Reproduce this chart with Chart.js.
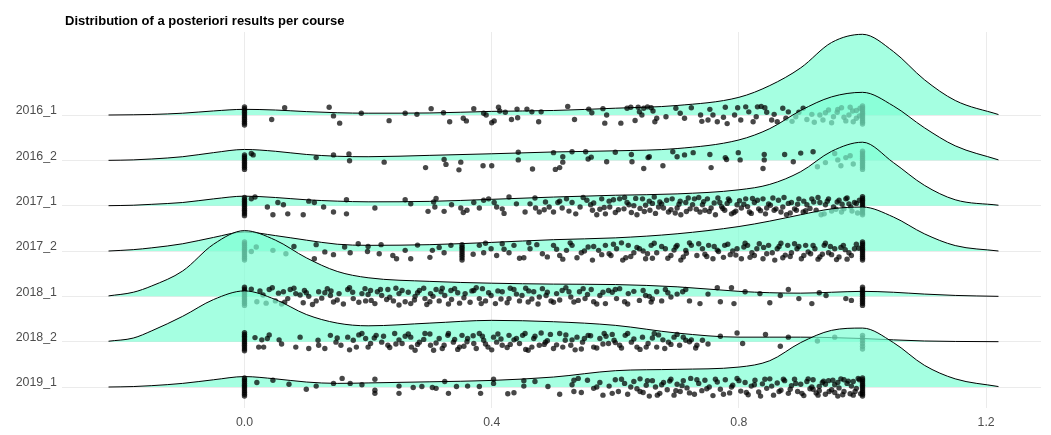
<!DOCTYPE html>
<html>
<head>
<meta charset="utf-8">
<script src="https://cdn.jsdelivr.net/npm/chart.js@4"></script>
<style>
  body { margin: 0; background: #fff; }
  #wrap { width: 1051px; height: 435px; }
</style>
</head>
<body>
<div id="wrap"><canvas id="chart" width="1051" height="435"></canvas></div>
<script>
var titleText = 'Distribution of a posteriori results per course';
var courses = ['2016_1', '2016_2', '2017_1', '2017_2', '2018_1', '2018_2', '2019_1'];
var xTicks = [0, 0.4, 0.8, 1.2];

// density curves, in row heights, sampled at densX
var densX = [-0.22, -0.18, -0.15, -0.1, -0.05, 0, 0.05, 0.1, 0.15, 0.2, 0.3, 0.4, 0.5, 0.6, 0.7, 0.8, 0.85, 0.9, 0.95, 1.0, 1.05, 1.1, 1.15, 1.22];
var dens2016_1 = [0, 0.005, 0.012, 0.04, 0.09, 0.125, 0.11, 0.075, 0.05, 0.04, 0.045, 0.08, 0.1, 0.15, 0.21, 0.39, 0.65, 1.04, 1.6, 1.78, 1.4, 0.78, 0.32, 0.01];
var dens2016_2 = [0, 0.01, 0.03, 0.08, 0.17, 0.24, 0.2, 0.13, 0.09, 0.08, 0.11, 0.145, 0.185, 0.21, 0.26, 0.45, 0.7, 1.1, 1.4, 1.5, 1.2, 0.72, 0.32, 0.01];
var dens2017_1 = [0, 0.01, 0.03, 0.07, 0.15, 0.21, 0.18, 0.13, 0.1, 0.085, 0.095, 0.14, 0.19, 0.23, 0.26, 0.35, 0.47, 0.75, 1.2, 1.4, 0.95, 0.45, 0.13, 0.01];
var dens2017_2 = [0, 0.03, 0.07, 0.16, 0.3, 0.42, 0.34, 0.24, 0.15, 0.125, 0.14, 0.19, 0.25, 0.29, 0.38, 0.54, 0.66, 0.8, 0.93, 0.97, 0.75, 0.38, 0.12, 0];
var dens2018_1 = [0.01, 0.09, 0.23, 0.56, 1.15, 1.45, 1.24, 0.85, 0.55, 0.41, 0.33, 0.29, 0.27, 0.26, 0.21, 0.11, 0.08, 0.07, 0.09, 0.11, 0.09, 0.05, 0.02, 0];
var dens2018_2 = [0.01, 0.08, 0.24, 0.56, 0.93, 1.12, 0.93, 0.6, 0.41, 0.35, 0.41, 0.47, 0.44, 0.36, 0.19, 0.1, 0.1, 0.1, 0.09, 0.07, 0.04, 0.015, 0.005, 0];
var dens2019_1 = [0, 0.01, 0.03, 0.08, 0.16, 0.23, 0.18, 0.11, 0.08, 0.09, 0.115, 0.145, 0.22, 0.36, 0.39, 0.44, 0.58, 0.98, 1.25, 1.3, 0.98, 0.48, 0.18, 0.01];

// results per student: [value, vertical jitter in row heights]
var pts2016_1 = [
  [0,-0.22],[0,-0.18],[0,-0.14],[0,-0.1],[0,-0.06],[0,-0.02],[0,0.02],[0,0.06],[0,0.1],[0,0.14],[0,0.18],
  [0.065,0.16],[0.044,-0.1],[0.137,0.17],[0.144,-0.02],[0.154,-0.18],[0.189,0.04],[0.234,-0.125],[0.26,0.04],[0.279,0.015],
  [0.302,0.14],[0.322,0.05],[0.332,-0.15],[0.354,-0.07],[0.359,-0.13],[0.371,0.14],[0.387,0.04],[0.391,0.0],[0.4,-0.17],
  [0.404,-0.13],[0.411,0.17],[0.413,0.09],[0.422,0.06],[0.432,-0.1],[0.441,0.13],[0.442,-0.06],[0.457,0.13],[0.465,0.07],
  [0.476,-0.15],[0.48,0.07],[0.523,0.19],[0.534,-0.1],[0.557,0.13],[0.562,0.05],[0.58,0.14],[0.583,-0.18],[0.586,0.0],
  [0.609,-0.18],[0.619,0.15],[0.625,0.17],[0.632,-0.12],[0.637,0.17],[0.639,0.07],[0.643,0.0],[0.646,0.15],[0.652,0.18],
  [0.658,0.16],[0.661,0.09],[0.664,-0.15],[0.667,-0.07],[0.682,-0.04],[0.698,0.15],[0.705,0.04],[0.712,-0.07],[0.723,0.16],
  [0.738,0.0],[0.74,-0.14],[0.75,-0.11],[0.753,0.125],[0.758,0.0],[0.765,-0.15],[0.775,-0.05],[0.778,0.17],[0.781,-0.19],
  [0.793,0.0],[0.798,0.16],[0.803,-0.11],[0.811,0.18],[0.816,0.07],[0.823,-0.15],[0.828,-0.04],[0.83,0.18],[0.836,0.19],
  [0.842,0.16],[0.845,0.06],[0.853,-0.11],[0.857,0.015],[0.862,-0.15],[0.871,0.15],[0.876,-0.07],[0.88,0.07],[0.886,-0.14],
  [0.892,-0.04],[0.897,0.06],[0.904,0.15],[0.91,-0.1],[0.918,0.015],[0.922,-0.16],[0.931,0.0],[0.936,-0.11],[0.945,0.11],
  [0.953,-0.04],[0.959,0.06],[0.966,0.16],[0.973,-0.13],[0.978,0.0],[0.984,0.09],[0.99,-0.07],[0.996,0.15],
  [0.94,0.05],[0.95,-0.17],[0.96,0.12],[0.97,-0.05],[0.98,0.17],[0.985,-0.15],[0.99,0.1],[0.995,-0.02],
  [1,-0.2],[1,-0.16],[1,-0.12],[1,-0.08],[1,-0.04],[1,0],[1,0.04],[1,0.08],[1,0.12],[1,0.16],[1,0.2]
];
var pts2016_2 = [
  [0,-0.2],[0,-0.16],[0,-0.12],[0,-0.08],[0,-0.04],[0,0],[0,0.04],[0,0.08],[0,0.12],
  [0.011,0.15],[0.014,0.12],[0.116,0.06],[0.144,0.12],[0.169,0.14],[0.17,-0.01],[0.226,-0.04],[0.293,-0.16],[0.323,0.02],
  [0.326,-0.09],[0.347,-0.21],[0.35,-0.04],[0.386,-0.12],[0.4,-0.12],[0.443,0.18],[0.443,0.01],[0.466,-0.19],[0.5,0.17],
  [0.503,-0.2],[0.51,-0.16],[0.515,0.08],[0.515,-0.04],[0.53,0.19],[0.552,0.19],[0.556,0.03],[0.561,0.07],[0.586,-0.03],
  [0.6,0.18],[0.626,0.13],[0.627,-0.03],[0.646,-0.18],[0.653,0.06],[0.655,0.08],[0.677,-0.12],[0.693,0.19],[0.7,0.08],
  [0.712,0.12],[0.726,0.17],[0.753,0.13],[0.755,-0.16],[0.778,0.06],[0.78,0.02],[0.799,0.17],[0.802,0.01],[0.841,0.13],
  [0.841,0.01],[0.839,-0.18],[0.874,0.13],[0.888,-0.03],[0.9,0.16],[0.92,0.19],[0.927,-0.14],[0.955,0.15],[0.96,0.01],
  [0.973,0.06],[0.94,-0.05],[0.965,-0.12],[0.98,0.1],[0.985,-0.08],
  [1,-0.2],[1,-0.16],[1,-0.12],[1,-0.08],[1,-0.04],[1,0],[1,0.04],[1,0.08],[1,0.12],[1,0.16],[1,0.2]
];
var pts2017_1 = [
  [0,-0.22],[0,-0.18],[0,-0.14],[0,-0.1],[0,-0.06],[0,-0.02],[0,0.02],[0,0.06],[0,0.1],[0,0.14],[0,0.18],
  [0.011,0.15],[0.017,0.19],[0.037,-0.03],[0.046,-0.2],[0.054,0.07],[0.063,0.02],[0.07,-0.18],[0.095,-0.2],[0.104,0.1],
  [0.113,0.07],[0.128,-0.03],[0.144,-0.14],[0.165,0.13],[0.165,-0.18],[0.211,-0.05],[0.26,0.13],[0.269,0.04],[0.297,-0.125],
  [0.306,0.08],[0.308,-0.03],[0.323,-0.125],[0.35,-0.05],[0.354,-0.15],[0.371,0.07],[0.38,-0.05],[0.387,0.12],[0.404,0.07],
  [0.408,-0.03],[0.417,-0.07],[0.428,0.19],[0.454,-0.14],[0.462,0.04],[0.471,-0.05],[0.477,-0.14],[0.487,0.08],[0.493,-0.03],
  [0.5,-0.14],[0.507,0.07],[0.514,-0.05],[0.521,0.15],[0.53,0.07],[0.536,-0.18],[0.543,-0.03],[0.554,0.12],[0.563,-0.1],
  [0.57,-0.2],[0.578,0.15],[0.584,-0.18],[0.591,-0.03],[0.607,0.15],[0.614,-0.07],[0.619,0.07],[0.626,-0.15],[0.635,-0.2],
  [0.644,0.15],[0.649,0.01],[0.656,-0.1],[0.663,0.19],[0.672,0.08],[0.678,-0.05],[0.686,-0.14],[0.692,0.15],[0.7,-0.05],
  [0.706,-0.2],[0.714,0.07],[0.721,-0.07],[0.728,0.15],[0.737,-0.14],[0.741,0.02],[0.749,0.15],[0.755,-0.05],[0.762,-0.2],
  [0.769,0.07],[0.777,-0.1],[0.783,0.15],[0.788,-0.18],[0.797,0.02],[0.804,-0.05],[0.811,0.15],[0.817,-0.14],[0.825,0.07],
  [0.832,-0.07],[0.839,0.15],[0.843,-0.18],[0.851,0.01],[0.857,-0.1],[0.864,0.12],[0.871,-0.03],[0.877,-0.2],[0.885,0.07],
  [0.89,-0.07],[0.897,0.15],[0.904,-0.14],[0.91,0.02],[0.918,0.15],[0.925,-0.1],[0.931,0.07],[0.938,-0.18],[0.945,0.15],
  [0.953,-0.03],[0.959,0.08],[0.966,-0.14],[0.973,0.15],[0.981,-0.03],[0.987,0.07],
  [0.56,0.02],[0.575,-0.08],[0.59,0.1],[0.6,-0.15],[0.615,0.18],[0.63,0.0],[0.64,-0.06],[0.655,0.1],[0.665,-0.17],
  [0.675,0.04],[0.69,-0.09],[0.705,0.1],[0.715,-0.13],[0.725,0.02],[0.735,0.18],[0.745,-0.1],[0.76,0.06],[0.772,-0.02],
  [0.785,0.11],[0.795,-0.12],[0.808,0.03],[0.82,-0.17],[0.83,0.12],[0.845,-0.05],[0.855,0.17],[0.868,-0.14],[0.88,0.05],
  [0.893,-0.1],[0.905,0.1],[0.915,-0.06],[0.928,0.18],[0.94,0.02],[0.95,-0.12],[0.962,0.12],[0.97,-0.07],[0.978,0.04],
  [0.992,-0.16],[0.995,0.12],
  [0.31,0.16],[0.335,0.02],[0.36,-0.1],[0.395,0.15],[0.42,-0.17],[0.44,0.04],[0.47,0.17],[0.485,-0.09],[0.51,0.1],
  [0.525,-0.12],[0.548,0.18],[0.565,0.06],[0.582,-0.04],[0.597,0.13],[0.605,-0.09],[0.622,0.02],[0.633,0.16],[0.647,-0.13],
  [0.66,0.05],[0.67,-0.03],[0.683,0.12],[0.697,-0.16],[0.703,0.03],[0.718,0.17],[0.731,-0.08],[0.743,0.09],[0.752,-0.13],
  [0.766,0.17],[0.774,-0.06],[0.781,0.05],[0.792,-0.15],[0.801,0.11],[0.814,-0.02],[0.822,0.16],[0.835,-0.11],[0.848,0.04],
  [0.86,-0.07],[0.873,0.18],[0.883,-0.16],[0.895,0.03],[0.908,-0.11],[0.921,0.08],[0.933,-0.2],[0.943,0.1],[0.957,-0.08],
  [0.967,0.03],[0.975,0.17],[0.983,-0.12],[0.99,0.05],
  [1,-0.2],[1,-0.16],[1,-0.12],[1,-0.08],[1,-0.04],[1,0],[1,0.04],[1,0.08],[1,0.12],[1,0.16],[1,0.2]
];
var pts2017_2 = [
  [0,-0.2],[0,-0.16],[0,-0.12],[0,-0.08],[0,-0.04],[0,0],[0,0.04],[0,0.08],[0,0.12],[0,0.16],[0,0.2],
  [0.011,-0.01],[0.019,0.09],[0.046,0.015],[0.067,-0.06],[0.113,-0.17],[0.116,0.14],[0.144,-0.08],[0.162,0.09],[0.171,-0.04],
  [0.184,0.16],[0.199,-0.01],[0.221,0.14],[0.218,-0.06],[0.246,-0.17],[0.26,0.015],[0.269,-0.17],[0.304,0.015],[0.323,-0.04],
  [0.334,0.125],[0.352,0.14],[0.352,0.09],[0.352,0.05],[0.352,0.0],[0.352,-0.05],[0.352,-0.1],[0.352,-0.15],[0.352,-0.2],
  [0.38,0.125],[0.387,-0.04],[0.399,0.05],[0.408,-0.1],[0.417,0.16],[0.428,-0.04],[0.436,0.125],[0.452,-0.15],[0.462,0.05],
  [0.473,0.14],[0.482,-0.06],[0.5,0.125],[0.51,-0.1],[0.521,0.015],[0.53,0.125],[0.538,-0.15],[0.545,-0.04],[0.556,0.09],
  [0.563,-0.2],[0.573,0.015],[0.584,0.125],[0.593,-0.1],[0.602,0.05],[0.612,-0.2],[0.621,0.125],[0.63,-0.04],[0.639,0.05],
  [0.649,-0.17],[0.658,0.125],[0.667,-0.04],[0.681,0.05],[0.69,-0.1],[0.7,0.125],[0.706,-0.2],[0.714,0.015],[0.723,0.125],
  [0.732,-0.1],[0.741,0.05],[0.751,0.125],[0.758,-0.17],[0.767,-0.01],[0.777,0.125],[0.786,-0.08],[0.797,0.05],[0.804,-0.17],
  [0.814,0.125],[0.821,-0.04],[0.829,0.05],[0.839,-0.17],[0.848,0.125],[0.854,-0.04],[0.862,0.05],[0.871,-0.15],[0.879,0.125],
  [0.885,-0.04],[0.894,0.05],[0.901,-0.17],[0.908,0.125],[0.916,-0.06],[0.923,0.05],[0.931,-0.13],[0.938,0.125],[0.945,-0.04],
  [0.955,0.05],[0.962,-0.13],[0.969,0.125],[0.978,-0.04],[0.987,0.05],
  [0.565,0.1],[0.59,-0.06],[0.61,0.18],[0.625,-0.12],[0.645,0.0],[0.66,-0.16],[0.675,0.1],[0.695,0.02],[0.71,-0.13],
  [0.72,0.18],[0.745,-0.07],[0.76,0.1],[0.775,-0.14],[0.79,0.0],[0.81,0.17],[0.825,-0.1],[0.84,0.08],[0.858,-0.2],
  [0.868,0.17],[0.883,-0.12],[0.897,0.1],[0.912,-0.02],[0.928,-0.18],[0.94,0.17],[0.95,-0.08],[0.965,0.08],[0.975,-0.18],
  [0.99,0.15],
  [0.08,0.1],[0.13,-0.02],[0.2,0.1],[0.24,-0.1],[0.28,0.13],[0.3,-0.14],[0.315,0.08],[0.37,-0.07],[0.39,0.17],
  [0.42,0.04],[0.445,-0.16],[0.46,0.18],[0.49,-0.13],[0.505,0.04],[0.515,-0.18],[0.527,0.18],[0.55,0.0],[0.578,-0.08],
  [0.597,0.15],[0.617,-0.15],[0.635,0.08],[0.652,-0.06],[0.663,0.17],[0.685,-0.16],[0.698,0.09],[0.715,-0.05],[0.735,0.16],
  [0.748,-0.12],[0.765,0.02],[0.782,0.15],[0.795,-0.09],[0.808,0.09],[0.818,-0.14],[0.833,0.16],[0.845,-0.06],[0.865,0.1],
  [0.875,-0.09],[0.89,0.16],[0.905,-0.1],[0.92,0.12],[0.935,-0.07],[0.948,0.1],[0.958,-0.19],[0.972,0.03],[0.982,-0.1],
  [0.994,0.06],
  [1,-0.2],[1,-0.16],[1,-0.12],[1,-0.08],[1,-0.04],[1,0],[1,0.04],[1,0.08],[1,0.12],[1,0.16],[1,0.2]
];
var pts2018_1 = [
  [0,-0.2],[0,-0.16],[0,-0.12],[0,-0.08],[0,-0.04],[0,0],[0,0.04],[0,0.08],[0,0.12],[0,0.16],[0,0.2],
  [0.011,0.16],[0.025,0.12],[0.04,0.15],[0.02,-0.12],[0.035,-0.15],[0.05,-0.1],[0.06,-0.17],
  [0.063,0.1],[0.074,0.15],[0.083,0.06],[0.097,0.13],[0.104,0],[0.116,-0.1],[0.12,0.1],[0.134,0.17],[0.139,0.02],
  [0.144,-0.125],[0.153,0.06],[0.167,0.15],[0.176,-0.05],[0.19,0.06],[0.196,-0.1],[0.204,0.13],[0.211,-0.16],[0.222,0.02],
  [0.232,0.15],[0.241,-0.1],[0.25,0.06],[0.255,0.13],[0.269,-0.16],[0.276,0],[0.283,0.13],[0.292,-0.05],[0.301,0.06],
  [0.31,0.15],[0.315,-0.1],[0.324,0.02],[0.334,0.13],[0.348,-0.15],[0.357,0.06],[0.371,0.13],[0.38,-0.05],[0.385,0.17],
  [0.399,0.02],[0.406,-0.16],[0.417,0.1],[0.428,-0.05],[0.436,0.15],[0.449,0.02],[0.459,-0.125],[0.468,0.1],[0.477,-0.015],
  [0.482,0.17],[0.496,-0.1],[0.505,0.06],[0.514,0.13],[0.528,-0.015],[0.533,-0.125],[0.542,0.1],[0.551,-0.05],[0.561,0.15],
  [0.575,0.02],[0.584,-0.16],[0.589,0.13],[0.602,-0.05],[0.607,0.17],[0.621,0.06],[0.639,-0.09],[0.649,0.02],[0.658,-0.125],
  [0.667,0.1],[0.681,0.15],[0.69,-0.015],[0.709,0.1],[0.714,0.15],[0.737,-0.16],[0.765,0.19],[0.788,0.19],[0.792,-0.16],
  [0.834,0.06],[0.867,0.02],[0.897,-0.05],[0.918,-0.16],[0.941,0.02],[0.973,-0.05],[0.982,-0.09],
  [0.07,-0.05],[0.09,0.03],[0.11,-0.18],[0.13,0.08],[0.15,-0.08],[0.17,0.19],[0.185,-0.13],[0.2,0.04],[0.215,0.1],
  [0.23,-0.07],[0.245,0.18],[0.26,-0.12],[0.28,0.08],[0.295,-0.18],[0.305,0.0],[0.32,0.18],[0.335,-0.07],[0.345,0.08],
  [0.365,-0.13],[0.375,0.19],[0.39,-0.1],[0.41,0.12],[0.425,-0.14],[0.44,0.05],[0.455,0.18],[0.465,-0.06],[0.49,0.09],
  [0.5,-0.13],[0.52,0.19],[0.54,-0.09],[0.555,0.04],[0.57,-0.17],[0.595,0.09],[0.615,-0.12],[0.63,0.11],[0.655,0.0],
  [0.675,-0.1],[0.7,0.05],
  [0.03,0.03],[0.045,0.19],[0.055,0.07],[0.065,-0.13],[0.08,0.18],[0.095,-0.14],[0.1,0.08],[0.125,-0.04],[0.14,0.12],
  [0.16,-0.17],[0.175,0.09],[0.195,0.17],[0.205,-0.09],[0.22,0.15],[0.235,-0.02],[0.25,-0.19],[0.265,0.09],[0.275,-0.08],
  [0.29,0.18],[0.3,-0.12],[0.318,0.1],[0.33,-0.17],[0.34,0.17],[0.355,-0.03],[0.368,0.12],[0.383,-0.16],[0.395,0.08],
  [0.415,-0.06],[0.43,0.18],[0.445,-0.1],[0.46,0.12],[0.475,-0.17],[0.488,0.02],[0.51,-0.08],[0.525,0.1],[0.548,0.17],
  [0.565,-0.12],[0.58,0.09],[0.6,0.15],[0.62,-0.17],[0.645,0.13],[0.66,-0.06],[0.685,0.08],[0.72,-0.1],[0.75,0.05],
  [0.77,-0.12],[0.81,0.1],[0.85,-0.14],[0.88,0.15],[0.93,0.08],
  [1,-0.2],[1,-0.16],[1,-0.12],[1,-0.08],[1,-0.04],[1,0],[1,0.04],[1,0.08],[1,0.12],[1,0.16],[1,0.2]
];
var pts2018_2 = [
  [0,-0.2],[0,-0.16],[0,-0.12],[0,-0.08],[0,-0.04],[0,0],[0,0.04],[0,0.08],[0,0.12],[0,0.16],[0,0.2],
  [0.017,0.09],[0.028,0.04],[0.037,0.07],[0.023,-0.12],[0.031,-0.12],[0.056,0.04],[0.083,-0.12],[0.104,-0.15],[0.119,0.03],
  [0.12,-0.08],[0.139,0.14],[0.148,-0.01],[0.156,-0.08],[0.167,0.1],[0.176,0.03],[0.181,-0.12],[0.19,0.18],[0.196,0.07],
  [0.204,-0.04],[0.213,0.14],[0.222,-0.01],[0.232,-0.08],[0.243,0.18],[0.25,0.04],[0.255,-0.04],[0.269,0.1],[0.276,-0.19],
  [0.283,-0.01],[0.292,0.18],[0.301,-0.08],[0.306,-0.19],[0.315,0.07],[0.323,-0.08],[0.329,0.14],[0.338,-0.01],[0.348,-0.12],
  [0.352,0.14],[0.361,0.07],[0.371,-0.04],[0.38,0.18],[0.387,0.03],[0.394,-0.12],[0.403,0.1],[0.408,-0.01],[0.417,-0.08],
  [0.428,0.14],[0.436,0.04],[0.445,-0.04],[0.454,0.18],[0.459,-0.19],[0.468,0.07],[0.477,-0.08],[0.487,-0.01],[0.5,-0.15],
  [0.51,0.18],[0.519,0.03],[0.528,-0.08],[0.538,0.1],[0.547,-0.01],[0.556,0.14],[0.565,-0.12],[0.575,0.07],[0.582,0.18],
  [0.589,-0.04],[0.598,0.03],[0.607,-0.08],[0.616,0.14],[0.626,-0.01],[0.635,-0.12],[0.644,0.1],[0.653,-0.04],[0.663,0.18],
  [0.667,-0.12],[0.677,0.04],[0.686,-0.01],[0.695,0.1],[0.704,-0.08],[0.714,0.03],[0.723,0.04],[0.732,-0.08],[0.741,0.03],
  [0.797,0.19],[0.806,-0.04],[0.843,0.16],[0.867,-0.1],[0.88,0.1],[0.927,0.015],[0.955,0.1],
  [0.21,0.08],[0.235,-0.13],[0.26,0.12],[0.28,-0.06],[0.3,0.17],[0.32,-0.15],[0.34,0.05],[0.355,-0.1],[0.37,0.13],
  [0.39,-0.05],[0.41,0.17],[0.425,-0.13],[0.44,0.07],[0.455,-0.17],[0.47,0.12],[0.485,-0.06],[0.495,0.16],[0.515,-0.12],
  [0.53,0.04],[0.545,-0.16],[0.56,0.13],[0.58,-0.05],[0.595,0.16],[0.61,-0.14],[0.63,0.06],[0.65,-0.12],[0.67,0.15],
  [0.69,-0.06],[0.71,0.1],[0.73,-0.14],
  [0.04,0.15],[0.06,-0.05],[0.09,0.1],[0.13,-0.15],[0.15,0.08],[0.17,-0.18],[0.185,0.15],[0.2,-0.12],[0.225,0.12],
  [0.245,-0.05],[0.265,0.17],[0.27,-0.12],[0.29,0.05],[0.31,-0.03],[0.33,0.18],[0.345,-0.17],[0.36,0.0],[0.375,-0.15],
  [0.385,0.12],[0.4,-0.18],[0.415,0.06],[0.43,-0.06],[0.45,0.14],[0.465,-0.12],[0.48,0.19],[0.49,0.02],[0.505,-0.07],
  [0.52,0.15],[0.535,-0.18],[0.55,0.07],[0.57,-0.14],[0.585,0.12],[0.6,-0.02],[0.62,0.18],[0.64,-0.17],[0.66,0.08],
  [0.68,-0.15],[0.7,0.16],[0.72,0.0],[0.75,-0.05],[0.77,0.12],
  [1,-0.16],[1,-0.1],[1,-0.04],[1,0.02],[1,0.08],[1,0.14]
];
var pts2019_1 = [
  [0,-0.2],[0,-0.16],[0,-0.12],[0,-0.08],[0,-0.04],[0,0],[0,0.04],[0,0.08],[0,0.12],[0,0.16],[0,0.2],
  [0.046,0.15],[0.072,0.06],[0.116,0.02],[0.144,0.08],[0.158,0.19],[0.171,0.08],[0.211,0.17],[0.211,-0.07],[0.211,-0.14],
  [0.25,0.02],[0.25,-0.14],[0.273,-0.01],[0.287,0.01],[0.304,-0.01],[0.31,-0.03],[0.324,0.12],[0.343,0.01],[0.361,0.02],
  [0.38,0.01],[0.382,-0.14],[0.403,0.17],[0.403,0.08],[0.426,-0.15],[0.436,-0.125],[0.452,0.14],[0.452,0.02],[0.491,0.01],
  [0.53,0.05],[0.533,0.15],[0.533,-0.1],[0.545,-0.12],[0.555,0.15],[0.565,-0.03],[0.575,0.1],[0.58,-0.18],[0.59,0.02],
  [0.6,0.16],[0.605,-0.1],[0.615,0.08],[0.62,-0.16],[0.63,0.12],[0.635,-0.04],[0.64,0.18],[0.645,-0.12],[0.65,0.04],
  [0.655,-0.2],[0.66,0.14],[0.665,0.0],[0.672,-0.14],[0.678,0.1],[0.684,-0.06],[0.69,0.17],[0.695,-0.18],[0.7,0.06],
  [0.705,-0.1],[0.71,0.14],[0.716,-0.02],[0.722,0.19],[0.728,-0.16],[0.735,0.08],[0.74,-0.08],[0.745,0.15],[0.752,0.0],
  [0.758,-0.19],[0.765,0.11],[0.77,-0.05],[0.778,0.16],[0.785,-0.13],[0.79,0.04],[0.797,0.19],[0.803,-0.09],[0.81,0.1],
  [0.815,-0.17],[0.82,0.02],[0.826,0.15],[0.832,-0.11],[0.838,0.07],[0.845,-0.03],[0.85,0.18],[0.856,-0.18],[0.862,0.09],
  [0.868,-0.07],[0.874,0.14],[0.88,-0.14],[0.885,0.03],[0.89,0.17],[0.895,-0.1],[0.9,0.06],[0.905,-0.19],[0.91,0.12],
  [0.915,-0.04],[0.92,0.16],[0.925,-0.13],[0.93,0.01],[0.935,0.1],[0.94,-0.16],[0.945,0.14],[0.95,-0.06],[0.955,0.05],
  [0.96,-0.2],[0.965,0.18],[0.97,-0.1],[0.975,0.08],[0.98,-0.15],[0.985,0.12],[0.99,-0.03],[0.995,0.16],[0.93,-0.08],
  [0.96,0.1],[0.94,0.06],[0.97,0.16],[0.985,-0.18],[0.92,-0.05],[0.955,-0.12],
  [0.02,0.1],[0.1,-0.05],[0.19,0.05],[0.33,-0.14],[0.47,0.12],[0.51,-0.16],[0.54,0.19],[0.57,0.0],[0.595,-0.14],
  [0.61,0.17],[0.625,0.0],[0.64,-0.1],[0.652,0.14],[0.668,-0.18],[0.675,0.05],[0.688,0.13],[0.698,-0.08],[0.708,0.03],
  [0.72,-0.13],[0.732,0.16],[0.748,-0.04],[0.762,0.17],[0.775,-0.16],[0.788,0.0],[0.8,0.14],[0.812,-0.12],[0.825,0.05],
  [0.835,-0.2],[0.842,0.17],[0.853,0.02],[0.865,-0.1],[0.872,0.17],[0.883,-0.05],[0.892,0.08],[0.902,-0.14],[0.912,0.18],
  [0.918,0.0],[0.928,-0.18],[0.937,0.13],[0.946,-0.1],[0.952,0.15],[0.962,-0.02],[0.968,-0.17],[0.977,0.13],[0.982,0.02],
  [0.988,-0.1],[0.993,0.19],[0.997,-0.15],
  [1,-0.2],[1,-0.16],[1,-0.12],[1,-0.08],[1,-0.04],[1,0],[1,0.04],[1,0.08],[1,0.12],[1,0.16],[1,0.2]
];

var densByCourse = [dens2016_1, dens2016_2, dens2017_1, dens2017_2, dens2018_1, dens2018_2, dens2019_1];
var ptsByCourse = [pts2016_1, pts2016_2, pts2017_1, pts2017_2, pts2018_1, pts2018_2, pts2019_1];

Chart.defaults.font.family = '"Liberation Sans", Arial, Helvetica, sans-serif';

var datasets = [];
courses.forEach(function(c, r) {
  var base = courses.length - 1 - r;
  // each ridge sits on its own baseline; lower rows drawn over upper ones
  datasets.push({
    type: 'line',
    label: c,
    data: densX.map(function(x, i) { return {x: x, y: base + densByCourse[r][i]}; }),
    borderColor: '#000000',
    borderWidth: 1,
    pointRadius: 0,
    backgroundColor: 'rgba(127,255,212,0.7)',
    fill: {value: base},
    cubicInterpolationMode: 'monotone',
    order: 20 - 2 * r
  });
  datasets.push({
    type: 'scatter',
    label: c + ' points',
    data: ptsByCourse[r].map(function(p) { return {x: p[0], y: base + p[1]}; }),
    pointRadius: 2.7,
    pointBackgroundColor: 'rgba(0,0,0,0.72)',
    pointBorderColor: 'rgba(0,0,0,0)',
    pointBorderWidth: 0,
    showLine: false,
    order: 19 - 2 * r
  });
});

var titlePlugin = {
  id: 'plotTitle',
  afterDraw: function(chart) {
    var ctx = chart.ctx;
    ctx.save();
    ctx.font = 'bold 13px "Liberation Sans", Arial, sans-serif';
    ctx.fillStyle = '#000000';
    ctx.textAlign = 'left';
    ctx.textBaseline = 'alphabetic';
    ctx.fillText(titleText, 65, 25);
    ctx.restore();
  }
};

new Chart(document.getElementById('chart'), {
  type: 'scatter',
  data: {datasets: datasets},
  plugins: [titlePlugin],
  options: {
    responsive: false,
    animation: false,
    events: [],
    layout: {padding: {top: 32, right: 10, left: 0, bottom: 0}},
    plugins: {legend: {display: false}, tooltip: {enabled: false}, title: {display: false}},
    scales: {
      x: {
        type: 'linear',
        min: -0.2953,
        max: 1.2888,
        afterBuildTicks: function(axis) { axis.ticks = xTicks.map(function(v) { return {value: v}; }); },
        afterFit: function(axis) { axis.height = 27; },
        grid: {color: '#ebebeb', lineWidth: 1, drawTicks: false},
        border: {display: false},
        ticks: {
          color: '#4d4d4d', padding: 7, font: {size: 12.3},
          maxRotation: 0,
          callback: function(v) { return Number(v).toFixed(1); }
        }
      },
      y: {
        type: 'linear',
        min: -0.463,
        max: 7.831,
        afterBuildTicks: function(axis) { axis.ticks = courses.map(function(c, i) { return {value: i}; }); },
        afterFit: function(axis) { axis.width = 62; },
        grid: {color: '#ebebeb', lineWidth: 1, drawTicks: false},
        border: {display: false},
        ticks: {
          color: '#4d4d4d', padding: 5, font: {size: 12.4}, labelOffset: -4,
          callback: function(v) { return courses[courses.length - 1 - v]; }
        }
      }
    }
  }
});
</script>
</body>
</html>
